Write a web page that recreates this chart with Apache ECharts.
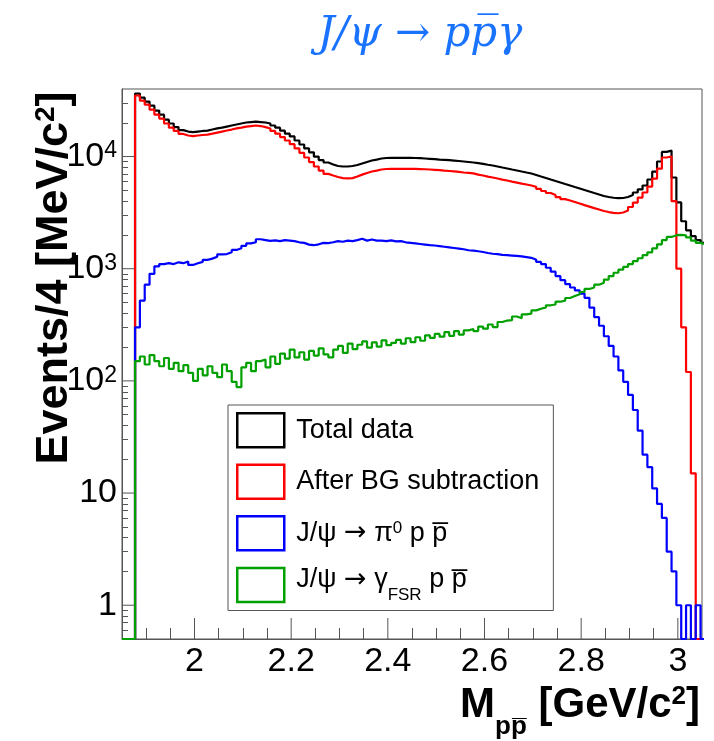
<!DOCTYPE html>
<html>
<head>
<meta charset="utf-8">
<script src="https://cdn.jsdelivr.net/npm/echarts@6/dist/echarts.min.js"></script>
<style>
html, body { margin: 0; padding: 0; background: #fff; }
#chart { width: 714px; height: 741px; }
</style>
</head>
<body>
<div id="chart"></div>
<script>
// histogram binning (GeV/c^2): bins start at 2 m_p
var binStart = 1.877;
var binWidth = 0.01;
var xMin = 1.85, xMax = 3.05;
var yMin = 0.5, yMax = 40000;

// counts per bin (one row = 0.1 GeV)
var totalData = [
  36400, 33500, 30900, 28400, 25700, 23600, 21300, 19700, 18300, 17200,
  16700, 16500, 16700, 16900, 17000, 17400, 17800, 18100, 18500, 18900,
  19300, 19700, 20100, 20300, 20500, 20300, 20100, 19700, 18900, 18100,
  17000, 16000, 15100, 13900, 12800, 11800, 10900, 10000, 9300, 8850,
  8500, 8230, 8150, 8150, 8230, 8400, 8660, 8930, 9210, 9400,
  9600, 9700, 9740, 9740, 9740, 9740, 9740, 9700, 9660, 9600,
  9540, 9480, 9400, 9350, 9290, 9210, 9120, 9030, 8940, 8850,
  8720, 8590, 8450, 8320, 8150, 7980, 7820, 7660, 7510, 7350,
  7200, 7060, 6850, 6640, 6440, 6240, 6050, 5870, 5690, 5520,
  5350, 5190, 5030, 4880, 4730, 4590, 4450, 4360, 4290, 4260,
  4270, 4360, 4540, 4780, 5090, 5520, 6240, 7350, 9030, 11000,
  11300, 6500, 3900, 2650, 2200, 1950, 1800, 1700
];
var afterBG = [
  35000, 31500, 29000, 26200, 23600, 21800, 19700, 18100, 16900, 15900,
  15400, 15200, 15400, 15550, 15700, 16000, 16350, 16700, 17050, 17400,
  17800, 18100, 18500, 18700, 18900, 18700, 18300, 17800, 16900, 16000,
  14900, 13900, 12900, 11800, 10800, 9800, 8930, 8150, 7500, 7000,
  6770, 6570, 6420, 6400, 6420, 6630, 6900, 7140, 7360, 7500,
  7660, 7740, 7780, 7770, 7770, 7770, 7760, 7750, 7730, 7700,
  7660, 7620, 7580, 7500, 7430, 7360, 7290, 7210, 7140, 7070,
  6900, 6770, 6630, 6500, 6370, 6230, 6110, 5980, 5860, 5740,
  5630, 5520, 5360, 5140, 4930, 4730, 4540, 4350, 4170, 4055,
  3930, 3810, 3690, 3580, 3470, 3370, 3270, 3200, 3150, 3120,
  3170, 3300, 3550, 3890, 4310, 4780, 5400, 6350, 7800, 9800,
  10000, 4000, 1000, 300, 120, 15, 0, 0
];
var pi0Bkg = [
  300, 520, 720, 900, 1050, 1100, 1120, 1100, 1140, 1120,
  1160, 1080, 1120, 1150, 1200, 1230, 1280, 1340, 1350, 1400,
  1470, 1520, 1600, 1680, 1720, 1830, 1800, 1770, 1790, 1760,
  1800, 1780, 1760, 1720, 1700, 1640, 1620, 1650, 1700, 1690,
  1720, 1760, 1740, 1780, 1760, 1800, 1850, 1780, 1820, 1780,
  1780, 1760, 1790, 1750, 1760, 1720, 1700, 1680, 1660, 1640,
  1620, 1610, 1590, 1570, 1550, 1530, 1510, 1490, 1460, 1450,
  1430, 1410, 1380, 1360, 1350, 1330, 1320, 1310, 1300, 1290,
  1270, 1250, 1200, 1150, 1100, 1020, 940, 860, 790, 730,
  680, 640, 600, 550, 450, 370, 310, 250, 205, 165,
  124, 98, 75, 55, 36, 22, 17, 11, 8, 6,
  3, 2, 1, 0, 1, 0, 1, 0
];
var fsrBkg = [
  150, 165, 140, 170, 150, 135, 160, 128, 145, 122,
  138, 118, 100, 128, 112, 135, 118, 108, 140, 122,
  98, 88, 132, 145, 122, 150, 155, 132, 165, 142,
  175, 158, 190, 162, 180, 155, 185, 168, 195, 172,
  162, 190, 205, 178, 215, 192, 210, 225, 198, 220,
  202, 230, 208, 218, 232, 215, 240, 222, 245, 228,
  255, 242, 262, 248, 272, 252, 278, 258, 282, 290,
  278, 305, 292, 318, 302, 335, 345, 348, 375, 362,
  392, 398, 425, 440, 452, 472, 480, 508, 520, 548,
  570, 592, 620, 660, 680, 720, 750, 800, 860, 920,
  980, 1040, 1100, 1170, 1240, 1320, 1400, 1520, 1650, 1800,
  1920, 1990, 2000, 1980, 1900, 1780, 1700, 1650
];

var seriesNames = ['Total data', 'After BG subtraction', 'pi0', 'fsr'];
var seriesColors = ['#000000', '#ff0000', '#0000ff', '#00a000'];
var legendLabels = {
  'Total data': 'Total data',
  'After BG subtraction': 'After BG subtraction',
  'pi0': '{b|J/\u03c8 }{arr|\u2192}{b| \u03c0}{sup|0}{b| p p\u0305}',
  'fsr': '{b|J/\u03c8 }{arr|\u2192}{b| \u03b3}{sub|FSR}{b| p p\u0305}'
};

var xLabelValues = [2, 2.2, 2.4, 2.6, 2.8, 3];
var xMinorTicks = [1.9, 1.95, 2.05, 2.1, 2.15, 2.25, 2.3, 2.35, 2.45, 2.5, 2.55,
                   2.65, 2.7, 2.75, 2.85, 2.9, 2.95];
var yLabelValues = [1, 10, 100, 1000, 10000];
var yMinorTicks = [0.6, 0.7, 0.8, 0.9, 2, 3, 4, 5, 6, 7, 8, 9,
                   20, 30, 40, 50, 60, 70, 80, 90,
                   200, 300, 400, 500, 600, 700, 800, 900,
                   2000, 3000, 4000, 5000, 6000, 7000, 8000, 9000,
                   20000, 30000];

// histogram outline: empty bins drawn on the axis floor like ROOT does
function toSteps(counts) {
  var pts = [[xMin, yMin]];
  for (var i = 0; i < counts.length; i++) {
    pts.push([+(binStart + i * binWidth).toFixed(3), counts[i] > 0 ? counts[i] : yMin]);
  }
  var last = counts[counts.length - 1];
  pts.push([+(binStart + counts.length * binWidth).toFixed(3), last > 0 ? last : yMin]);
  return pts;
}

var font = 'Liberation Sans';
var axisGray = '#555';

var allCounts = [totalData, afterBG, pi0Bkg, fsrBkg];
var series = [];
for (var s = 0; s < allCounts.length; s++) {
  series.push({
    name: seriesNames[s],
    type: 'line',
    step: 'end',
    symbol: 'none',
    clip: true,
    xAxisIndex: 0,
    yAxisIndex: 0,
    lineStyle: { color: seriesColors[s], width: 2.2 },
    itemStyle: { color: seriesColors[s] },
    data: toSteps(allCounts[s])
  });
}

// long (major) ticks, ROOT style, drawn at the axis through the grid's coords
function majorTicks(name, pts, dx, dy) {
  return {
    name: name,
    type: 'custom',
    silent: true,
    clip: false,
    z: 5,
    xAxisIndex: 0,
    yAxisIndex: 0,
    data: pts,
    renderItem: function (params, api) {
      var p = api.coord([api.value(0), api.value(1)]);
      return { type: 'line',
        shape: { x1: p[0], y1: p[1], x2: p[0] + dx, y2: p[1] + dy },
        style: { stroke: axisGray, lineWidth: 1 } };
    }
  };
}
series.push(majorTicks('xticks', xLabelValues.map(function (v) { return [v, yMin]; }), 0, -21));
series.push(majorTicks('yticks', yLabelValues.map(function (v) { return [xMin, v]; }), 12, 0));

// an extra label-less axis that only draws the short ticks
function tickAxis(type, vals, len) {
  var ax = {
    type: type,
    min: type === 'log' ? yMin : xMin,
    max: type === 'log' ? yMax : xMax,
    position: type === 'log' ? 'left' : 'bottom',
    splitLine: { show: false },
    axisLine: { show: false },
    axisTick: { show: true, inside: true, length: len, customValues: vals,
                lineStyle: { color: axisGray, width: 1 } },
    axisLabel: { show: false }
  };
  if (type === 'log') ax.logBase = 10;
  return ax;
}

var myChart = echarts.init(document.getElementById('chart'));
var option = {
  animation: false,
  backgroundColor: '#fff',
  grid: { left: 122, right: 12, top: 89, bottom: 102, containLabel: false,
          show: true, borderColor: axisGray, borderWidth: 1, backgroundColor: 'transparent' },
  legend: {
    orient: 'vertical',
    left: 228,
    top: 405,
    padding: [7, 14, 7, 8],
    itemWidth: 47,
    itemHeight: 34,
    itemGap: 15,
    backgroundColor: '#fff',
    borderColor: axisGray,
    borderWidth: 1,
    selectedMode: false,
    textStyle: {
      fontFamily: font, fontSize: 27, color: '#000', padding: [0, 0, 0, 7],
      rich: {
        b: { fontFamily: font, fontSize: 27, color: '#000', verticalAlign: 'top' },
        arr: { fontFamily: 'DejaVu Sans', fontSize: 27, color: '#000', verticalAlign: 'top' },
        sup: { fontFamily: font, fontSize: 17, color: '#000', verticalAlign: 'top' },
        sub: { fontFamily: font, fontSize: 17, color: '#000', verticalAlign: 'bottom', padding: [20, 0, 0, 0] }
      }
    },
    formatter: function (name) { return legendLabels[name]; },
    data: seriesNames.map(function (n, i) {
      return { name: n, icon: 'rect',
        itemStyle: { color: 'rgba(0,0,0,0)', borderColor: seriesColors[i], borderWidth: 2.5 } };
    })
  },
  xAxis: [{
    type: 'value',
    min: xMin,
    max: xMax,
    position: 'bottom',
    splitLine: { show: false },
    axisLine: { show: true, lineStyle: { color: axisGray, width: 1 } },
    axisTick: { show: false },
    axisLabel: { customValues: xLabelValues, fontFamily: font, fontSize: 34, color: '#000', margin: 6 }
  },
    tickAxis('value', xMinorTicks, 11)
  ],
  yAxis: [{
    type: 'log',
    logBase: 10,
    min: yMin,
    max: yMax,
    position: 'left',
    splitLine: { show: false },
    axisLine: { show: true, lineStyle: { color: axisGray, width: 1 } },
    axisTick: { show: false },
    axisLabel: {
      customValues: yLabelValues,
      fontFamily: font, fontSize: 34, color: '#000', margin: 5,
      formatter: function (v) {
        var p = Math.round(Math.log(v) / Math.LN10);
        if (p === 0) return '1';
        if (p === 1) return '10';
        return '10{sup|' + p + '}';
      },
      rich: {
        sup: { fontFamily: font, fontSize: 23, color: '#000', verticalAlign: 'top', padding: [0, 0, 10, 0] }
      }
    }
  },
    tickAxis('log', yMinorTicks, 6)
  ],
  graphic: [{
    type: 'text',
    x: 420,
    y: 35,
    style: {
      text: 'J/\u03c8 \u2192 pp\u0305\u03b3',
      fontFamily: 'DejaVu Serif',
      fontStyle: 'italic',
      fontSize: 42,
      fill: '#1a73ff',
      align: 'center',
      verticalAlign: 'middle'
    }
  }, {
    type: 'text',
    x: 55,
    y: 278,
    rotation: Math.PI / 2,
    style: {
      text: 'Events/4 [MeV/c{sup|2}]',
      fontFamily: font,
      fontWeight: 'bold',
      fontSize: 45,
      fill: '#000',
      align: 'center',
      verticalAlign: 'middle',
      rich: {
        sup: { fontFamily: font, fontWeight: 'bold', fontSize: 28, fill: '#000', verticalAlign: 'top', padding: [0, 0, 12, 0] }
      }
    }
  }, {
    type: 'text',
    x: 700,
    y: 712,
    style: {
      text: '{b|M}{sub|pp\u0305}{b| [GeV/c}{sup|2}{b|]}',
      fontFamily: font,
      fontWeight: 'bold',
      fontSize: 42,
      fill: '#000',
      align: 'right',
      verticalAlign: 'middle',
      rich: {
        b: { fontFamily: font, fontWeight: 'bold', fontSize: 42, fill: '#000', verticalAlign: 'top' },
        sub: { fontFamily: font, fontWeight: 'bold', fontSize: 26, fill: '#000', verticalAlign: 'bottom', padding: [30, 0, 0, 0] },
        sup: { fontFamily: font, fontWeight: 'bold', fontSize: 26, fill: '#000', verticalAlign: 'top' }
      }
    }
  }],
  series: series
};
myChart.setOption(option);
</script>
</body>
</html>
